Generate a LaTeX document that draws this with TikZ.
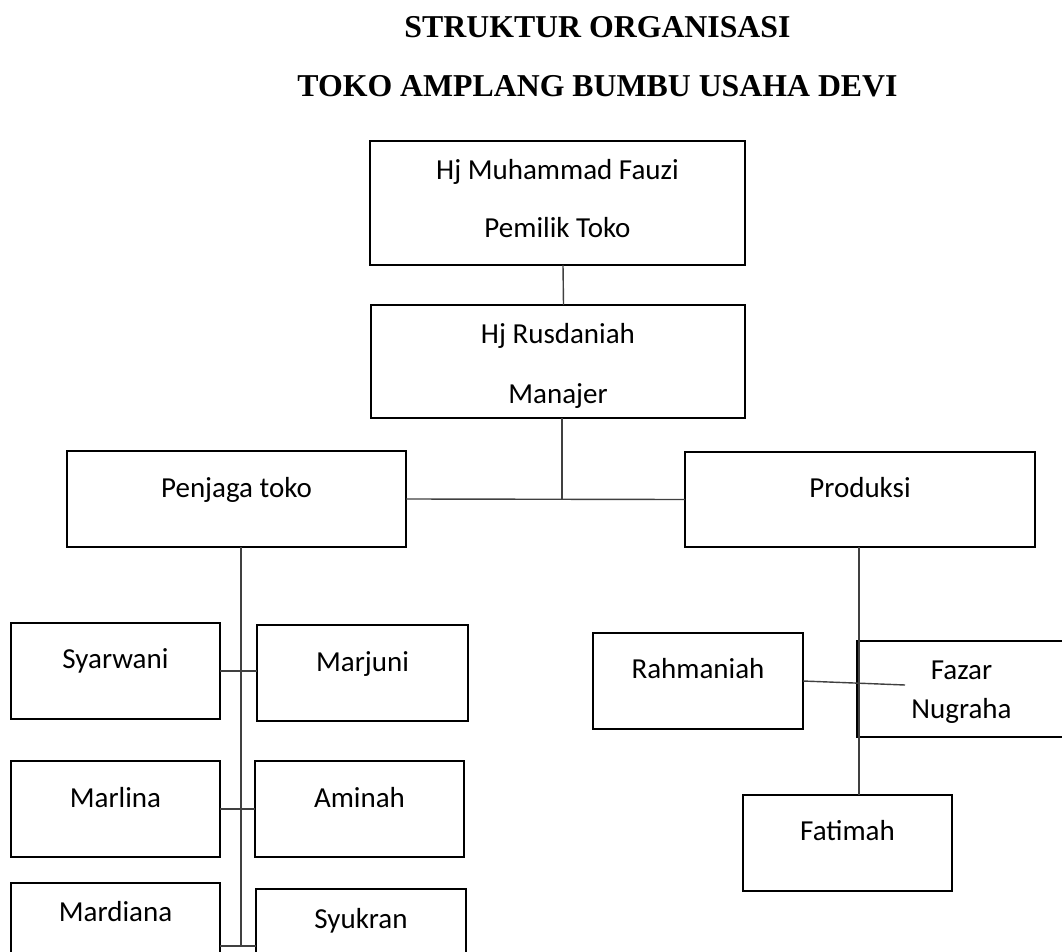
\documentclass[tikz,border=0pt]{standalone}
\usepackage{fontspec}
\setmainfont{Carlito}
\newfontfamily\titlefont{Liberation Serif}
\begin{document}
\begin{tikzpicture}[x=1pt,y=-1pt,
  box/.style={draw, line width=2.9pt, inner sep=0pt, outer sep=0pt, anchor=north west},
  lbl/.style={font=\fontsize{29}{34}\selectfont, anchor=base, inner sep=0pt},
  ttl/.style={font=\titlefont\bfseries\fontsize{31.8}{36}\selectfont, anchor=base, inner sep=0pt},
  con/.style={line width=1.4pt, draw=black!75}]
\useasboundingbox (0,0) rectangle (1062,952);

% titles
\node[ttl] (t1) at (597.5,38) {STRUKTUR ORGANISASI};
\node[ttl] (t2) at (597.5,97) {TOKO AMPLANG BUMBU USAHA DEVI};

% boxes
\node[box, minimum width=375, minimum height=124] (own) at (370,141) {};
\node[box, minimum width=374, minimum height=113] (man) at (371,305) {};
\node[box, minimum width=339, minimum height=96] (pen) at (67,451) {};
\node[box, minimum width=350, minimum height=95] (pro) at (685,452) {};
\node[box, minimum width=209, minimum height=96] (sya) at (11,623) {};
\node[box, minimum width=211, minimum height=96] (mrj) at (257,625) {};
\node[box, minimum width=209, minimum height=96] (mrl) at (11,761) {};
\node[box, minimum width=209, minimum height=96] (ami) at (255,761) {};
\node[box, minimum width=209, minimum height=96] (mrd) at (11,883) {};
\node[box, minimum width=210, minimum height=96] (syu) at (256,889) {};
\node[box, minimum width=210, minimum height=96] (rah) at (593,633) {};
\node[box, minimum width=209, minimum height=96] (faz) at (857,641) {};
\node[box, minimum width=209, minimum height=96] (fat) at (743,795) {};

% labels
\node[lbl] (l1) at ([yshift=-38pt]own.north) {Hj Muhammad Fauzi};
\node[lbl] (l2) at ([yshift=-96pt]own.north) {Pemilik Toko};
\node[lbl] (l3) at ([yshift=-38pt]man.north) {Hj Rusdaniah};
\node[lbl] (l4) at ([yshift=-98pt]man.north) {Manajer};
\node[lbl] (l5) at ([yshift=-46pt]pen.north) {Penjaga toko};
\node[lbl] (l6) at ([yshift=-45pt]pro.north) {Produksi};
\node[lbl] (l7) at ([yshift=-45pt]sya.north) {Syarwani};
\node[lbl] (l8) at ([yshift=-46pt]mrj.north) {Marjuni};
\node[lbl] (l9) at ([yshift=-46pt]mrl.north) {Marlina};
\node[lbl] (l10) at ([yshift=-46pt]ami.north) {Aminah};
\node[lbl] (l11) at ([yshift=-38pt]mrd.north) {Mardiana};
\node[lbl] (l12) at ([yshift=-39pt]syu.north) {Syukran};
\node[lbl] (l13) at ([yshift=-45pt]rah.north) {Rahmaniah};
\node[lbl] (l14) at ([yshift=-38pt]faz.north) {Fazar};
\node[lbl] (l15) at ([yshift=-77pt]faz.north) {Nugraha};
\node[lbl] (l16) at ([yshift=-45pt]fat.north) {Fatimah};

% connectors
\coordinate (j1) at (562,499.5);
\coordinate (lbot) at (241,946);
\coordinate (fzend) at (905,685);
\draw[con] ([xshift=5.5pt]own.south) -- ([xshift=5.5pt]man.north);
\draw[con] ([xshift=4pt]man.south) -- (j1);
\draw[con] (pen.east) -- (pro.west);
\draw[con] ([xshift=4.5pt]pen.south) -- (lbot);
\draw[con] (sya.east) -- (mrj.west |- sya.east);
\draw[con] (mrl.east) -- (ami.west);
\draw[con] (mrd.east |- lbot) -- (syu.west |- lbot);
\draw[con] ([xshift=-1pt]pro.south) -- ([xshift=-1pt]pro.south |- fat.north);
\draw[con] (rah.east) -- (fzend);
\end{tikzpicture}
\end{document}
